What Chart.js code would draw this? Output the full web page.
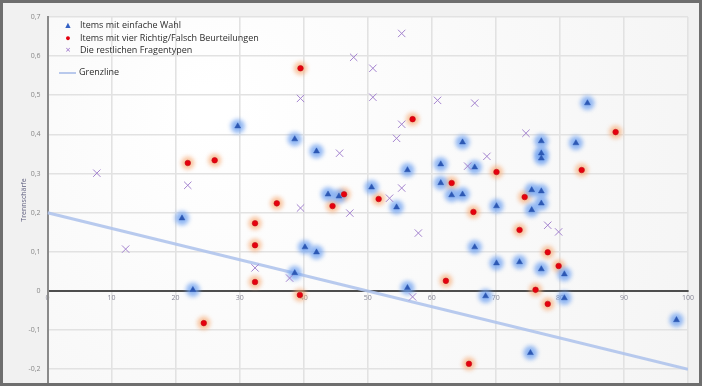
<!DOCTYPE html>
<html>
<head>
<meta charset="utf-8">
<script src="https://cdn.jsdelivr.net/npm/chart.js@4/dist/chart.umd.min.js"></script>
<style>
  html, body { margin: 0; padding: 0; background: #fff; }
  #frame {
    position: absolute; left: 0; top: 0;
    width: 696px; height: 380px;
    border: 3px solid #6e6e6e;
    background: #f1f1f1;
  }
  #chart { display: block; }
  #legend {
    position: absolute; left: 62px; top: 19px;
    font: 9px "Open Sans", sans-serif; color: #2b2b2b;
  }
  #legend .row { height: 12.5px; line-height: 12.5px; white-space: nowrap; }
  #legend .row.gap { margin-top: 9.5px; }
  #legend .sym { display: inline-block; width: 12px; text-align: center; margin-right: 6px; }
  #legend .line { display: inline-block; width: 17px; height: 2px; margin: 0 3px 0 -3px; vertical-align: middle; }
</style>
</head>
<body>
<div id="frame"><canvas id="chart" width="696" height="380"></canvas></div>
<div id="legend"></div>
<script>
// ---- data ----
const seriesNames = [
  'Items mit einfache Wahl',
  'Items mit vier Richtig/Falsch Beurteilungen',
  'Die restlichen Fragentypen',
  'Grenzline'
];

// [x, y]
const einfacheWahl = [
  [21.0, 0.186], [22.7, 0.003], [29.7, 0.421], [38.6, 0.388], [42.0, 0.357],
  [43.8, 0.247], [45.5, 0.242], [40.2, 0.112], [42.0, 0.099], [38.6, 0.046],
  [50.6, 0.265], [54.5, 0.214], [56.2, 0.309], [56.2, 0.008], [61.4, 0.324],
  [61.4, 0.276], [63.1, 0.245], [64.8, 0.247], [64.8, 0.380], [66.7, 0.316],
  [66.7, 0.112], [68.4, -0.013], [70.1, 0.217], [70.1, 0.071], [73.7, 0.074],
  [75.4, -0.158], [75.6, 0.258], [75.6, 0.207], [77.1, 0.383], [77.1, 0.352],
  [77.1, 0.339], [77.1, 0.255], [77.1, 0.224], [77.1, 0.056], [80.7, 0.043],
  [80.7, -0.018], [82.5, 0.378], [84.3, 0.480], [98.2, -0.074]
];

const richtigFalsch = [
  [21.9, 0.327], [26.1, 0.334], [24.4, -0.082], [32.4, 0.173], [32.4, 0.117],
  [32.4, 0.023], [35.8, 0.224], [39.4, -0.010], [39.5, 0.569], [44.5, 0.217],
  [46.3, 0.247], [51.7, 0.235], [57.0, 0.439], [62.2, 0.026], [63.1, 0.276],
  [65.8, -0.186], [66.5, 0.202], [70.1, 0.304], [73.7, 0.156], [74.5, 0.240],
  [76.2, 0.003], [78.1, 0.099], [78.1, -0.033], [79.8, 0.064], [83.4, 0.309],
  [88.7, 0.406]
];

const restliche = [
  [7.7, 0.301], [12.2, 0.107], [21.9, 0.270], [32.4, 0.059], [37.8, 0.033],
  [39.5, 0.492], [39.5, 0.212], [45.6, 0.352], [47.2, 0.199], [47.8, 0.597],
  [50.8, 0.569], [50.8, 0.495], [54.5, 0.390], [55.3, 0.658], [55.3, 0.426],
  [55.3, 0.263], [53.4, 0.237], [57.0, -0.015], [57.9, 0.148], [60.9, 0.487],
  [65.6, 0.319], [66.7, 0.480], [68.6, 0.344], [74.7, 0.403], [78.1, 0.168],
  [79.8, 0.151]
];

const grenzX = [0, 100];
const grenzY = [0.2, -0.2];

const yTicks = [-0.2, -0.1, 0, 0.1, 0.2, 0.3, 0.4, 0.5, 0.6, 0.7];

// ---- helpers ----
const pts = arr => arr.map(p => ({ x: p[0], y: p[1] }));
const fmt = v => String(Number(v.toFixed(1))).replace('.', ',');

// legend (HTML, sits inside the plot top-left)
const legendSyms = [
  '<span class="sym" style="color:#3461c4">&#9650;</span>',
  '<span class="sym" style="color:#e3000f">&#9679;</span>',
  '<span class="sym" style="color:#9b73c9">&#215;</span>',
  '<span class="line" style="background:#b9c9ec"></span>'
];
document.getElementById('legend').innerHTML = seriesNames.map((n, i) =>
  `<div class="row${i === 3 ? ' gap' : ''}">${legendSyms[i]}${n}</div>`).join('');

// ---- plugins ----
const backdrop = {
  id: 'backdrop',
  beforeDraw(chart) {
    const { ctx, chartArea: a } = chart;
    const g = ctx.createRadialGradient(a.left + 160, a.top + 90, 20, a.left + 260, a.top + 160, 520);
    g.addColorStop(0, '#ffffff');
    g.addColorStop(1, '#f3f3f3');
    ctx.save();
    ctx.fillStyle = g;
    ctx.fillRect(a.left, a.top, a.right - a.left, a.bottom - a.top);
    ctx.restore();
  }
};

const glow = {
  id: 'glow',
  beforeDatasetDraw(chart, args) {
    if (chart.data.datasets[args.index].glow) {
      chart.ctx.save();
      chart.ctx.filter = 'blur(2px)';
    }
  },
  afterDatasetDraw(chart, args) {
    if (chart.data.datasets[args.index].glow) chart.ctx.restore();
  }
};

// ---- chart ----
new Chart(document.getElementById('chart'), {
  type: 'scatter',
  data: {
    datasets: [
      {
        label: seriesNames[0], data: pts(einfacheWahl), order: 0,
        pointStyle: 'triangle', pointRadius: 3.4, pointBackgroundColor: '#2d58b4',
        pointBorderColor: '#2d58b4', pointBorderWidth: 0.5
      },
      {
        label: seriesNames[1], data: pts(richtigFalsch), order: 0,
        pointStyle: 'circle', pointRadius: 2.8, pointBackgroundColor: '#e6000d',
        pointBorderColor: '#c0101a', pointBorderWidth: 0.6
      },
      {
        label: seriesNames[2], data: pts(restliche), order: 0,
        pointStyle: 'crossRot', pointRadius: 5.2, pointBorderColor: '#a483cf',
        pointBorderWidth: 1
      },
      {
        data: pts(einfacheWahl), order: 1, glow: true,
        pointStyle: 'circle', pointRadius: 7, pointBorderWidth: 0,
        pointBackgroundColor: 'rgba(110,160,240,0.75)'
      },
      {
        data: pts(richtigFalsch), order: 1, glow: true,
        pointStyle: 'circle', pointRadius: 6.5, pointBorderWidth: 0,
        pointBackgroundColor: 'rgba(246,170,115,0.7)'
      },
      {
        type: 'line', label: seriesNames[3], order: 2,
        data: grenzX.map((x, i) => ({ x, y: grenzY[i] })),
        borderColor: 'rgba(176,196,236,0.9)', borderWidth: 3,
        pointRadius: 0, fill: false
      }
    ]
  },
  options: {
    responsive: false,
    animation: false,
    layout: { autoPadding: false, padding: { top: 14, right: 11, left: 0, bottom: 0 } },
    plugins: { legend: { display: false }, tooltip: { enabled: false } },
    scales: {
      x: {
        type: 'linear', min: 0, max: 100,
        position: { y: 0 },
        afterFit: s => { s.height = 0; s.paddingTop = 0; s.paddingBottom = 0; },
        ticks: { stepSize: 10, padding: 3, color: '#878797', font: { family: 'Open Sans', size: 7 } },
        grid: { color: '#e2e2e2', lineWidth: 1.6, drawTicks: false },
        border: { display: true, color: '#4e4e4e', width: 2 }
      },
      y: {
        type: 'linear', min: -0.235, max: 0.7,
        afterBuildTicks: s => { s.ticks = yTicks.map(v => ({ value: v })); },
        afterFit: s => { s.width = 44.5; s.paddingTop = 0; s.paddingBottom = 0; },
        ticks: { padding: 7, color: '#878787', font: { family: 'Open Sans', size: 7 }, callback: v => fmt(v) },
        grid: { color: '#e2e2e2', lineWidth: 1.6, drawTicks: false },
        border: { display: true, color: '#8a8a8a', width: 2 },
        title: {
          display: true, text: 'Trennschärfe', color: '#5b5b7c',
          padding: { top: 16.5, bottom: 0 }, font: { family: 'Open Sans', size: 7 }
        }
      }
    }
  },
  plugins: [backdrop, glow]
});
</script>
</body>
</html>
